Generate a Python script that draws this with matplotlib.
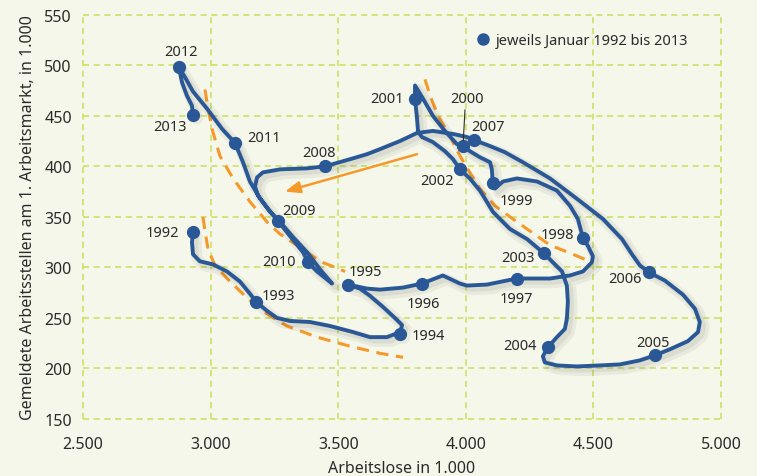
import matplotlib
matplotlib.use("Agg")
import matplotlib.pyplot as plt
import matplotlib.patheffects as pe
from matplotlib.lines import Line2D
from matplotlib.ticker import FuncFormatter

plt.rcParams['font.family'] = ['Noto Sans', 'DejaVu Sans']

# ---- data (in 1.000) ----
# monthly path of the curve, January 1992 -> January 2013
path_x = [2931, 2927, 2931, 2958, 3009, 3064, 3115, 3154, 3178, 3221, 3260, 3311, 3389, 3468,
          3558, 3624, 3691, 3722, 3742, 3750, 3722, 3675, 3624, 3585, 3538, 3613, 3664, 3754,
          3828, 3910, 3977, 4004, 4083, 4200, 4330, 4408, 4459, 4494, 4498, 4479, 4459, 4439,
          4408, 4357, 4279, 4200, 4146, 4114, 4106, 4102, 4095, 4055, 4016, 3989, 3965, 3918,
          3871, 3832, 3801, 3801, 3809, 3813, 3828, 3871, 3918, 3950, 3977, 4016, 4055, 4075,
          4106, 4173, 4240, 4306, 4341, 4377, 4396, 4400, 4396, 4388, 4357, 4322, 4302, 4310,
          4357, 4435, 4526, 4604, 4682, 4741, 4800, 4870, 4910, 4917, 4898, 4851, 4780, 4718,
          4682, 4651, 4612, 4537, 4435, 4330, 4224, 4153, 4095, 4032, 4004, 3950, 3871, 3809,
          3742, 3664, 3613, 3546, 3448, 3378, 3272, 3205, 3182, 3174, 3186, 3225, 3264, 3311,
          3362, 3382, 3417, 3476, 3429, 3378, 3323, 3272, 3233, 3194, 3154, 3127, 3096, 3045,
          2986, 2931, 2900, 2876, 2888, 2907, 2927, 2931]
path_y = [335, 325, 313, 306, 303, 296, 286, 274, 266, 257, 250, 247, 246, 242,
          236, 231, 231, 234, 234, 243, 250, 261, 272, 279, 283, 279, 278, 280,
          284, 292, 284, 282, 283, 289, 289, 292, 296, 305, 311, 321, 329, 348,
          361, 376, 385, 388, 385, 378, 383, 397, 404, 409, 415, 420, 422, 435,
          450, 467, 480, 467, 447, 434, 429, 424, 415, 407, 397, 388, 376, 368,
          355, 338, 328, 314, 305, 296, 282, 266, 249, 239, 231, 221, 212, 206,
          203, 202, 203, 204, 208, 213, 219, 227, 236, 246, 259, 273, 287, 295,
          302, 313, 328, 348, 368, 388, 404, 414, 420, 426, 429, 432, 435, 433,
          425, 417, 412, 407, 400, 398, 397, 394, 389, 380, 371, 358, 346, 331,
          315, 305, 296, 284, 298, 315, 330, 345, 355, 368, 385, 404, 423, 437,
          457, 474, 488, 498, 483, 470, 460, 451]

years = list(range(1992, 2014))
jan_x = [2931, 3178, 3742, 3538, 3828, 4200, 4459, 4106, 3989, 3801, 3977,
         4306, 4322, 4741, 4718, 4032, 3448, 3264, 3382, 3096, 2876, 2931]
jan_y = [335, 266, 234, 283, 284, 289, 329, 383, 420, 467, 397,
         314, 221, 213, 295, 426, 400, 346, 305, 423, 498, 451]

# dashed orange Beveridge curves
curve_a_x = [2978, 2990, 3009, 3037, 3088, 3154, 3221, 3272, 3350, 3429, 3507, 3527]
curve_a_y = [476, 457, 434, 410, 388, 365, 345, 333, 320, 306, 298, 296]
curve_b_x = [2970, 2978, 2990, 3017, 3076, 3146, 3221, 3299, 3417, 3546, 3664, 3754]
curve_b_y = [350, 336, 318, 302, 286, 269, 254, 242, 231, 222, 215, 211]
curve_c_x = [3840, 3860, 3891, 3938, 3969, 4008, 4055, 4114, 4173, 4251, 4330, 4420, 4494]
curve_c_y = [486, 470, 450, 430, 414, 397, 378, 361, 350, 336, 322, 313, 305]

arrow_start = (3809, 412)
arrow_end = (3291, 375)

x_ticks = [2500, 3000, 3500, 4000, 4500, 5000]
y_ticks = [150, 200, 250, 300, 350, 400, 450, 500, 550]

# label offsets of the year labels, in pixels from the dot
label_off = {1992: (-31, 0), 1993: (22, 6), 1994: (28, -1), 1995: (17, 13), 1996: (1, -20),
             1997: (0, -20), 1998: (-26, 4), 1999: (24, -17), 2000: (4, 48), 2001: (-28, 0),
             2002: (-23, -11), 2003: (-26, -4), 2004: (-28, 2), 2005: (-2, 13), 2006: (-24, -6),
             2007: (14, 14), 2008: (-6, 14), 2009: (21, 10), 2010: (-29, 1), 2011: (29, 6),
             2012: (2, 16), 2013: (-23, -12)}

# ---- style ----
bg = '#f5f7ea'
grid_c = '#cadf5c'
blue = '#2a5896'
orange = '#f59a2a'
txt = '#2b2b2b'

fig = plt.figure(figsize=(7.57, 4.77), dpi=100, facecolor=bg)
ax = fig.add_axes([83/757, 57/477, 638/757, 404.3/477], facecolor=bg)

ax.set_xlim(2500, 5000)
ax.set_ylim(150, 550)
ax.set_xticks(x_ticks)
ax.set_yticks(y_ticks)
ax.xaxis.set_major_formatter(FuncFormatter(lambda v, p: f"{int(v):,}".replace(",", ".")))
ax.tick_params(length=0, labelsize=11.5, labelcolor=txt)
ax.tick_params(axis='x', pad=12)
ax.tick_params(axis='y', pad=8)
for s in ax.spines.values():
    s.set_visible(False)
ax.grid(True, color=grid_c, linestyle=(0, (4, 3)), linewidth=1.1, clip_on=False)
ax.set_axisbelow(True)

for cx, cy in [(curve_a_x, curve_a_y), (curve_b_x, curve_b_y), (curve_c_x, curve_c_y)]:
    ax.plot(cx, cy, color=orange, lw=2.2, linestyle=(0, (4, 2.5)), zorder=2)

ax.annotate('', xy=arrow_end, xytext=arrow_start,
            arrowprops=dict(arrowstyle='-|>,head_length=0.9,head_width=0.35', color=orange,
                            lw=1.8, shrinkA=0, shrinkB=0), zorder=2)

# soft drop shadow under the blue path
shadow = [pe.SimpleLineShadow(offset=(3, -3), shadow_color='#000000', alpha=0.05, linewidth=8),
          pe.SimpleLineShadow(offset=(2.5, -2.5), shadow_color='#000000', alpha=0.06, linewidth=4),
          pe.Normal()]
ax.plot(path_x, path_y, color=blue, lw=2.8, solid_joinstyle='round', solid_capstyle='round',
        path_effects=shadow, zorder=3)
ax.plot(jan_x, jan_y, 'o', color=blue, ms=8.5, zorder=4)

for yr, xv, yv in zip(years, jan_x, jan_y):
    dx, dy = label_off[yr]
    if yr == 2000:
        ax.annotate(str(yr), (xv, yv), xytext=(dx, dy), textcoords='offset pixels',
                    ha='center', va='center', fontsize=10.5, color=txt, zorder=5,
                    arrowprops=dict(arrowstyle='-', color=txt, lw=0.8, relpos=(0.45, 0.1),
                                    shrinkA=1, shrinkB=4))
    else:
        ax.annotate(str(yr), (xv, yv), xytext=(dx, dy), textcoords='offset pixels',
                    ha='center', va='center', fontsize=10.5, color=txt, zorder=5)

leg_handle = Line2D([], [], marker='o', color=blue, ms=8, linestyle='none')
ax.legend([leg_handle], ['jeweils Januar 1992 bis 2013'], loc='center left',
          bbox_to_anchor=(0.597, 0.937), frameon=False, fontsize=10.5,
          handlelength=0.8, handletextpad=0.5, labelcolor=txt)

ax.set_xlabel('Arbeitslose in 1.000', fontsize=11.5, color=txt, labelpad=6)
ax.set_ylabel('Gemeldete Arbeitsstellen am 1. Arbeitsmarkt, in 1.000', fontsize=11.5,
              color=txt, labelpad=6)

fig.savefig('out.png', dpi=100, facecolor=bg)
